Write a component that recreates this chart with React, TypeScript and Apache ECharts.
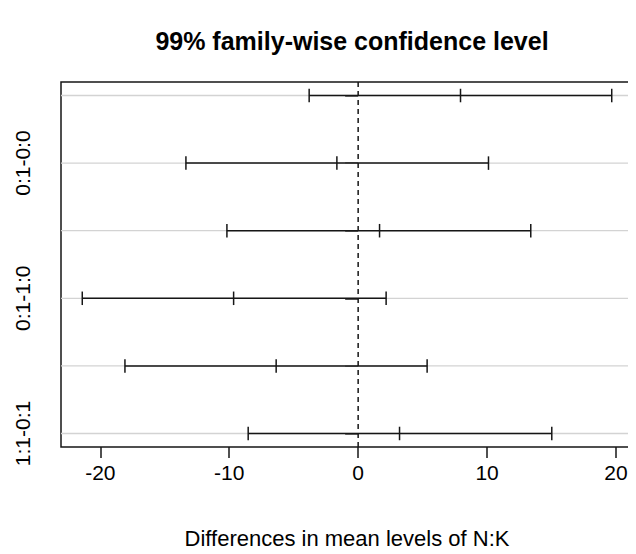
import React, { useEffect, useRef } from "react";
import * as echarts from "echarts";

// Tukey HSD intervals for the N:K interaction, top row first
const comparisons = ["1:0-0:0", "0:1-0:0", "1:1-0:0", "0:1-1:0", "1:1-1:0", "1:1-0:1"];
const diffs = [7.94, -1.65, 1.66, -9.66, -6.36, 3.21];
const lowers = [-3.8, -13.36, -10.18, -21.4, -18.09, -8.53];
const uppers = [19.67, 10.11, 13.39, 2.17, 5.35, 15.02];
const xTickValues = [-20, -10, 0, 10, 20];
// only every other comparison gets a label, the rest would overlap
const labelledRows = [2, 4, 6];

const X_MIN = -23.05;
const X_MAX = 21.32;
const Y_MIN = 0.8;
const Y_MAX = 6.2;
const FONT = "'Liberation Sans', Arial, sans-serif";
const INK = "#161616";
const LW = 1.5;

export default function App() {
  const ref = useRef<HTMLDivElement>(null);

  useEffect(() => {
    if (!ref.current) return;
    const chart = echarts.init(ref.current, null, { renderer: "svg" });

    const rows = comparisons.map((_, i) => [i + 1, lowers[i], diffs[i], uppers[i]]);

    chart.setOption({
      animation: false,
      backgroundColor: "#ffffff",
      textStyle: { fontFamily: FONT },
      title: {
        text: "99% family-wise confidence level",
        left: 347,
        top: 23,
        textAlign: "center",
        textStyle: { fontFamily: FONT, fontSize: 25, fontWeight: "bold", color: "#000" },
      },
      grid: {
        left: 61,
        right: 3,
        top: 82,
        bottom: 107,
        show: true,
        borderColor: INK,
        borderWidth: LW,
        backgroundColor: "transparent",
      },
      xAxis: {
        type: "value",
        min: X_MIN,
        max: X_MAX,
        name: "Differences in mean levels of N:K",
        nameLocation: "middle",
        nameGap: 80,
        nameTextStyle: { fontFamily: FONT, fontSize: 22, color: "#000" },
        axisLine: { show: false },
        splitLine: { show: false },
        axisTick: {
          show: true,
          length: 11,
          customValues: xTickValues,
          lineStyle: { color: INK, width: LW },
        },
        axisLabel: {
          customValues: xTickValues,
          margin: 15,
          fontFamily: FONT,
          fontSize: 21,
          color: "#000",
        },
      },
      yAxis: {
        type: "value",
        min: Y_MIN,
        max: Y_MAX,
        inverse: true,
        axisLine: { show: false },
        splitLine: { show: false },
        axisTick: {
          show: true,
          length: 13,
          customValues: comparisons.map((_, i) => i + 1),
          lineStyle: { color: INK, width: LW },
        },
        axisLabel: {
          customValues: labelledRows,
          formatter: (v: number) => comparisons[Math.round(v) - 1],
          rotate: 90,
          margin: 28,
          fontFamily: FONT,
          fontSize: 21,
          color: "#000",
        },
      },
      series: [
        {
          // light grey guide line through every comparison
          type: "custom",
          data: rows,
          silent: true,
          z: 1,
          renderItem: (_params: any, api: any) => {
            const y = api.value(0);
            const a = api.coord([X_MIN, y]);
            const b = api.coord([X_MAX, y]);
            return {
              type: "line",
              shape: { x1: a[0], y1: a[1], x2: b[0], y2: b[1] },
              style: { stroke: "#d3d3d3", lineWidth: 1.3 },
            };
          },
        },
        {
          // dashed reference line at zero difference
          type: "custom",
          data: [[0]],
          silent: true,
          z: 2,
          renderItem: (_params: any, api: any) => {
            const a = api.coord([api.value(0), Y_MIN]);
            const b = api.coord([api.value(0), Y_MAX]);
            return {
              type: "line",
              shape: { x1: a[0], y1: a[1], x2: b[0], y2: b[1] },
              style: { stroke: INK, lineWidth: LW, lineDash: [5, 4] },
            };
          },
        },
        {
          // confidence interval with end and centre ticks
          type: "custom",
          data: rows,
          z: 3,
          renderItem: (_params: any, api: any) => {
            const y = api.value(0);
            const pts = [api.value(1), api.value(2), api.value(3)];
            const lo = api.coord([pts[0], y]);
            const hi = api.coord([pts[2], y]);
            const top = api.coord([0, y - 0.1])[1];
            const bot = api.coord([0, y + 0.1])[1];
            const children: any[] = [
              {
                type: "line",
                shape: { x1: lo[0], y1: lo[1], x2: hi[0], y2: hi[1] },
                style: { stroke: INK, lineWidth: LW },
              },
            ];
            pts.forEach((v) => {
              const x = api.coord([v, y])[0];
              children.push({
                type: "line",
                shape: { x1: x, y1: top, x2: x, y2: bot },
                style: { stroke: INK, lineWidth: LW },
              });
            });
            return { type: "group", children };
          },
        },
      ],
    });

    return () => chart.dispose();
  }, []);

  return <div ref={ref} style={{ width: 636, height: 554, margin: -8 }} />;
}
